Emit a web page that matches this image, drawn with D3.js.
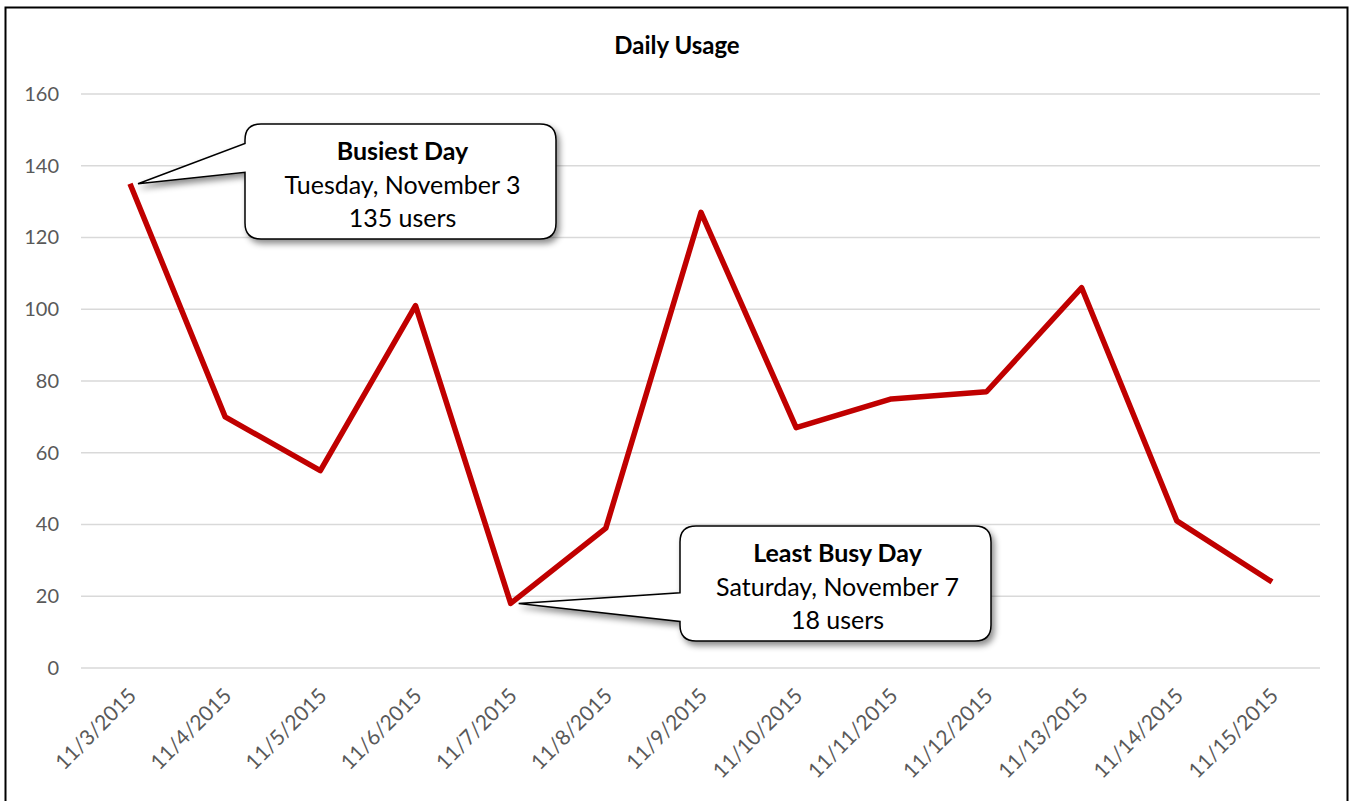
<html>
  <head>
    <script src="https://d3js.org/d3.v7.min.js"></script>
    <style>
      body { margin: 0; background: #fff; }
      text { font-family: Lato, "Open Sans", sans-serif; }
    </style>
  </head>
  <body>
    <svg id="vis"></svg>
  </body>
  <script>
    // data
    var dates = ["11/3/2015", "11/4/2015", "11/5/2015", "11/6/2015", "11/7/2015", "11/8/2015", "11/9/2015",
                 "11/10/2015", "11/11/2015", "11/12/2015", "11/13/2015", "11/14/2015", "11/15/2015"]
    var users = [135, 70, 55, 101, 18, 39, 127, 67, 75, 77, 106, 41, 24]
    var yTicks = [0, 20, 40, 60, 80, 100, 120, 140, 160]
    var notes = [
      {i: 0, title: "Busiest Day", line1: "Tuesday, November 3", line2: "135 users", bx: 245, by: 124},
      {i: 4, title: "Least Busy Day", line1: "Saturday, November 7", line2: "18 users", bx: 680, by: 526}
    ]

    var W = 1351, H = 801
    var svg = d3.select('#vis').attr('width', W).attr('height', H)

    // outer frame
    svg.append('rect')
      .attr('x', 5.5).attr('y', 7.5).attr('width', 1342).attr('height', 800)
      .attr('fill', '#fff').attr('stroke', '#000').attr('stroke-width', 2)

    var x = d3.scalePoint().domain(dates).range([130, 1272])
    var y = d3.scaleLinear().domain([0, 160]).range([668, 94])

    // gridlines
    svg.append('g').selectAll('line').data(yTicks).join('line')
      .attr('x1', 81).attr('x2', 1320)
      .attr('y1', function(d){ return y(d) }).attr('y2', function(d){ return y(d) })
      .attr('stroke', '#d9d9d9').attr('stroke-width', 1.3)

    // y axis labels
    var yAxis = svg.append('g').attr('transform', 'translate(59,0)')
      .call(d3.axisLeft(y).tickValues(yTicks).tickSize(0).tickPadding(0))
    yAxis.select('.domain').remove()
    yAxis.selectAll('text').attr('fill', '#595959').style('font-size', '20px')
      .style('font-family', 'Lato, sans-serif')

    // x axis labels, rotated
    var xAxis = svg.append('g').attr('transform', 'translate(0,678)')
      .call(d3.axisBottom(x).tickSize(0).tickPadding(0))
    xAxis.select('.domain').remove()
    xAxis.selectAll('text')
      .attr('fill', '#595959').style('font-size', '21px').style('font-family', 'Lato, sans-serif')
      .attr('text-anchor', 'end').attr('dy', '0.35em').attr('y', 0)
      .attr('transform', 'translate(2,14) rotate(-45)')

    // title
    svg.append('text').attr('x', 677).attr('y', 54).attr('text-anchor', 'middle')
      .style('font-size', '24px').style('font-weight', 'bold').attr('fill', '#000')
      .text('Daily Usage')

    // line
    var line = d3.line()
      .x(function(d, i){ return x(dates[i]) })
      .y(function(d){ return y(d) })
    svg.append('path').datum(users)
      .attr('d', line).attr('fill', 'none')
      .attr('stroke', '#c00000').attr('stroke-width', 5.5).attr('stroke-linejoin', 'round')

    // callouts
    var defs = svg.append('defs')
    var f = defs.append('filter').attr('id', 'shadow').attr('x', '-20%').attr('y', '-20%')
      .attr('width', '150%').attr('height', '150%')
    f.append('feDropShadow').attr('dx', 3).attr('dy', 4).attr('stdDeviation', 3)
      .attr('flood-color', '#000').attr('flood-opacity', 0.45)

    notes.forEach(function(n) {
      var w = 311, h = 115, r = 16
      var tx = x(dates[n.i]) + 8, ty = y(users[n.i])
      var bx = n.bx, by = n.by
      var p1 = by + h * 0.17, p2 = by + h * 0.42
      if (n.i === 4) { p1 = by + h * 0.58; p2 = by + h * 0.83 }
      var d = 'M' + (bx + r) + ',' + by +
        ' H' + (bx + w - r) + ' Q' + (bx + w) + ',' + by + ' ' + (bx + w) + ',' + (by + r) +
        ' V' + (by + h - r) + ' Q' + (bx + w) + ',' + (by + h) + ' ' + (bx + w - r) + ',' + (by + h) +
        ' H' + (bx + r) + ' Q' + bx + ',' + (by + h) + ' ' + bx + ',' + (by + h - r) +
        ' V' + p2 + ' L' + tx + ',' + ty + ' L' + bx + ',' + p1 +
        ' V' + (by + r) + ' Q' + bx + ',' + by + ' ' + (bx + r) + ',' + by + ' Z'
      svg.append('path').attr('d', d).attr('fill', '#fff')
        .attr('stroke', '#000').attr('stroke-width', 1.5).attr('filter', 'url(#shadow)')
      var cx = bx + w / 2 + 2
      svg.append('text').attr('x', cx).attr('y', by + 36).attr('text-anchor', 'middle')
        .style('font-size', '25px').style('font-weight', 'bold').text(n.title)
      svg.append('text').attr('x', cx).attr('y', by + 70).attr('text-anchor', 'middle')
        .style('font-size', '25px').text(n.line1)
      svg.append('text').attr('x', cx).attr('y', by + 103).attr('text-anchor', 'middle')
        .style('font-size', '25px').text(n.line2)
    })
  </script>
</html>
